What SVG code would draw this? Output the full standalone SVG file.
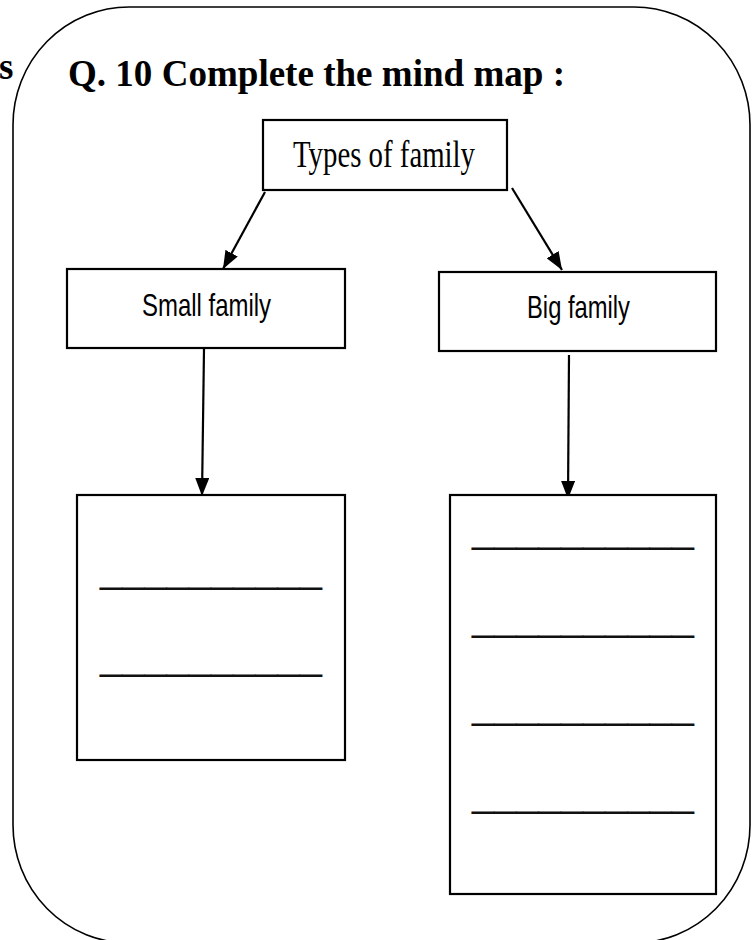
<svg xmlns="http://www.w3.org/2000/svg" width="755" height="940" viewBox="0 0 755 940">
<style>
.box{fill:#fff;stroke:#000;stroke-width:2.2}
.serif{font-family:"Liberation Serif","Times New Roman",serif;fill:#000}
.sans{font-family:"Liberation Sans",Arial,sans-serif;fill:#000}
.blank{font-family:"Liberation Sans",Arial,sans-serif;font-size:40px;fill:#111}
.conn{stroke:#000;stroke-width:2.2;fill:none;marker-end:url(#ah)}
</style>
<defs>
<marker id="ah" markerUnits="userSpaceOnUse" markerWidth="18" markerHeight="14" refX="18" refY="7" orient="auto">
<path d="M0,0 L18,7 L0,14 Z" fill="#000"/>
</marker>
</defs>
<rect width="755" height="940" fill="#fff"/>
<rect x="13" y="7" width="737" height="936" rx="116" ry="118" fill="none" stroke="#000" stroke-width="1.6"/>
<text class="serif" x="-1" y="79" font-size="37" font-weight="bold">s</text>
<text class="serif" x="68" y="86" font-size="38" font-weight="bold" textLength="497" lengthAdjust="spacingAndGlyphs">Q. 10 Complete the mind map :</text>
<g id="connectors">
<line class="conn" x1="265" y1="192" x2="223" y2="269"/>
<line class="conn" x1="512" y1="188" x2="562" y2="270"/>
<line class="conn" x1="204" y1="349" x2="202" y2="496"/>
<line class="conn" x1="569" y1="355" x2="568" y2="499"/>
</g>
<g id="types">
<rect class="box" x="263" y="120" width="244" height="70"/>
<text class="serif" x="384" y="167" font-size="38" text-anchor="middle" textLength="182" lengthAdjust="spacingAndGlyphs">Types of family</text>
</g>
<g id="small">
<rect class="box" x="67" y="269" width="278" height="79"/>
<text class="sans" x="206.5" y="316" font-size="32" text-anchor="middle" textLength="129" lengthAdjust="spacingAndGlyphs">Small family</text>
</g>
<g id="big">
<rect class="box" x="439" y="272" width="277" height="79"/>
<text class="sans" x="578.5" y="318" font-size="32" text-anchor="middle" textLength="103" lengthAdjust="spacingAndGlyphs">Big family</text>
</g>
<g id="small-blanks">
<rect class="box" x="77" y="495" width="268" height="265"/>
<text class="blank" x="100" y="582" textLength="222" lengthAdjust="spacingAndGlyphs">__________</text>
<text class="blank" x="100" y="669" textLength="222" lengthAdjust="spacingAndGlyphs">__________</text>
</g>
<g id="big-blanks">
<rect class="box" x="450" y="495" width="266" height="399"/>
<text class="blank" x="472" y="542" textLength="222" lengthAdjust="spacingAndGlyphs">__________</text>
<text class="blank" x="472" y="630" textLength="222" lengthAdjust="spacingAndGlyphs">__________</text>
<text class="blank" x="472" y="718" textLength="222" lengthAdjust="spacingAndGlyphs">__________</text>
<text class="blank" x="472" y="806" textLength="222" lengthAdjust="spacingAndGlyphs">__________</text>
</g>
</svg>
